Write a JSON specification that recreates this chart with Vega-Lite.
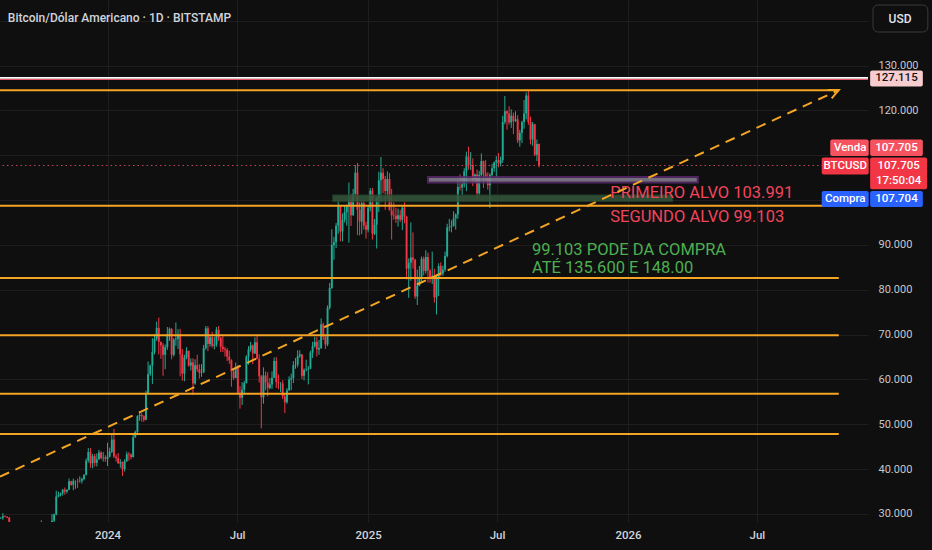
{
  "$schema": "https://vega.github.io/schema/vega-lite/v6.json",
  "width": 868,
  "height": 522,
  "autosize": {"type": "none"},
  "padding": {"left": 0, "top": 0, "right": 64, "bottom": 28},
  "background": "#0f0f0f",
  "usermeta": {"embedOptions": {"actions": false}},
  "config": {
    "view": {"stroke": null, "fill": "#0f0f0f"},
    "font": "Roboto",
    "axis": {"labelFont": "Roboto"}
  },
  "datasets": {
    "candles": [
      {"t":"2023-08-01","o":29200,"h":29700,"l":28600,"c":29100},
      {"t":"2023-08-04","o":29100,"h":29300,"l":28900,"c":29100},
      {"t":"2023-08-07","o":29100,"h":30200,"l":28700,"c":29500},
      {"t":"2023-08-10","o":29500,"h":29700,"l":29300,"c":29400},
      {"t":"2023-08-13","o":29400,"h":29500,"l":29100,"c":29200},
      {"t":"2023-08-16","o":29200,"h":29300,"l":25200,"c":26100},
      {"t":"2023-08-19","o":26100,"h":26300,"l":25800,"c":26100},
      {"t":"2023-08-22","o":26100,"h":26800,"l":25400,"c":26100},
      {"t":"2023-08-25","o":26100,"h":26200,"l":25800,"c":26100},
      {"t":"2023-08-28","o":26100,"h":28100,"l":25900,"c":27300},
      {"t":"2023-08-31","o":27300,"h":27400,"l":25700,"c":25900},
      {"t":"2023-09-03","o":25900,"h":26100,"l":25600,"c":25800},
      {"t":"2023-09-06","o":25800,"h":26500,"l":25400,"c":25900},
      {"t":"2023-09-09","o":25900,"h":26100,"l":24900,"c":25800},
      {"t":"2023-09-12","o":25800,"h":26700,"l":25700,"c":26500},
      {"t":"2023-09-15","o":26500,"h":26800,"l":26400,"c":26700},
      {"t":"2023-09-18","o":26700,"h":27500,"l":26400,"c":26600},
      {"t":"2023-09-21","o":26600,"h":26700,"l":26300,"c":26500},
      {"t":"2023-09-24","o":26500,"h":26600,"l":26000,"c":26300},
      {"t":"2023-09-27","o":26300,"h":27200,"l":26200,"c":27000},
      {"t":"2023-09-30","o":27000,"h":28600,"l":26900,"c":27800},
      {"t":"2023-10-03","o":27800,"h":28100,"l":27200,"c":27900},
      {"t":"2023-10-06","o":27900,"h":28200,"l":27400,"c":27600},
      {"t":"2023-10-09","o":27600,"h":27700,"l":26600,"c":26800},
      {"t":"2023-10-12","o":26800,"h":27000,"l":26600,"c":26900},
      {"t":"2023-10-15","o":26900,"h":30000,"l":26800,"c":28500},
      {"t":"2023-10-18","o":28500,"h":30100,"l":28200,"c":29900},
      {"t":"2023-10-21","o":29900,"h":35200,"l":29700,"c":33900},
      {"t":"2023-10-24","o":33900,"h":35000,"l":33700,"c":34200},
      {"t":"2023-10-27","o":34200,"h":34800,"l":33900,"c":34600},
      {"t":"2023-10-30","o":34600,"h":35600,"l":34100,"c":35400},
      {"t":"2023-11-02","o":35400,"h":35900,"l":34300,"c":35000},
      {"t":"2023-11-05","o":35000,"h":35500,"l":34600,"c":35400},
      {"t":"2023-11-08","o":35400,"h":37900,"l":35300,"c":37300},
      {"t":"2023-11-11","o":37300,"h":37400,"l":36300,"c":36500},
      {"t":"2023-11-14","o":36500,"h":37900,"l":35300,"c":37400},
      {"t":"2023-11-17","o":37400,"h":37500,"l":35600,"c":37400},
      {"t":"2023-11-20","o":37400,"h":37900,"l":35800,"c":37300},
      {"t":"2023-11-23","o":37300,"h":38400,"l":37000,"c":37400},
      {"t":"2023-11-26","o":37400,"h":38100,"l":36800,"c":37800},
      {"t":"2023-11-29","o":37800,"h":38900,"l":37500,"c":38700},
      {"t":"2023-12-02","o":38700,"h":42400,"l":38600,"c":41900},
      {"t":"2023-12-05","o":41900,"h":44700,"l":41500,"c":43800},
      {"t":"2023-12-08","o":43800,"h":44700,"l":40300,"c":41300},
      {"t":"2023-12-11","o":41300,"h":43400,"l":40200,"c":42900},
      {"t":"2023-12-14","o":42900,"h":43400,"l":40600,"c":41400},
      {"t":"2023-12-17","o":41400,"h":43500,"l":40600,"c":42200},
      {"t":"2023-12-20","o":42200,"h":44300,"l":42100,"c":43700},
      {"t":"2023-12-23","o":43700,"h":44000,"l":42200,"c":42500},
      {"t":"2023-12-26","o":42500,"h":43800,"l":41700,"c":42600},
      {"t":"2023-12-29","o":42600,"h":43100,"l":41600,"c":42300},
      {"t":"2024-01-01","o":42300,"h":45900,"l":40700,"c":42800},
      {"t":"2024-01-04","o":42800,"h":44800,"l":42600,"c":43900},
      {"t":"2024-01-07","o":43900,"h":47900,"l":43600,"c":46600},
      {"t":"2024-01-10","o":46600,"h":49000,"l":42500,"c":42800},
      {"t":"2024-01-13","o":42800,"h":43300,"l":41700,"c":42500},
      {"t":"2024-01-16","o":42500,"h":43600,"l":41200,"c":41300},
      {"t":"2024-01-19","o":41300,"h":42200,"l":40300,"c":41600},
      {"t":"2024-01-22","o":41600,"h":41700,"l":38500,"c":40000},
      {"t":"2024-01-25","o":40000,"h":42200,"l":39500,"c":41800},
      {"t":"2024-01-28","o":41800,"h":43900,"l":41600,"c":43300},
      {"t":"2024-01-31","o":43300,"h":43800,"l":41900,"c":43200},
      {"t":"2024-02-03","o":43200,"h":43500,"l":42200,"c":42700},
      {"t":"2024-02-06","o":42700,"h":47700,"l":42600,"c":47100},
      {"t":"2024-02-09","o":47100,"h":48600,"l":47000,"c":48300},
      {"t":"2024-02-12","o":48300,"h":52000,"l":47700,"c":51800},
      {"t":"2024-02-15","o":51800,"h":52800,"l":50800,"c":52100},
      {"t":"2024-02-18","o":52100,"h":52500,"l":50600,"c":51800},
      {"t":"2024-02-21","o":51800,"h":52000,"l":50500,"c":51000},
      {"t":"2024-02-24","o":51000,"h":57500,"l":50900,"c":56800},
      {"t":"2024-02-27","o":56800,"h":64000,"l":56700,"c":61200},
      {"t":"2024-03-01","o":61200,"h":63300,"l":60800,"c":63100},
      {"t":"2024-03-04","o":63100,"h":69200,"l":59000,"c":66100},
      {"t":"2024-03-07","o":66100,"h":70100,"l":65600,"c":69000},
      {"t":"2024-03-10","o":69000,"h":72900,"l":68600,"c":71500},
      {"t":"2024-03-13","o":71500,"h":73800,"l":65600,"c":68400},
      {"t":"2024-03-16","o":68400,"h":68400,"l":64600,"c":67600},
      {"t":"2024-03-19","o":67600,"h":68100,"l":60800,"c":65500},
      {"t":"2024-03-22","o":65500,"h":67800,"l":62300,"c":67200},
      {"t":"2024-03-25","o":67200,"h":71700,"l":66600,"c":69900},
      {"t":"2024-03-28","o":69900,"h":71600,"l":68600,"c":71300},
      {"t":"2024-03-31","o":71300,"h":71400,"l":64500,"c":65500},
      {"t":"2024-04-03","o":65500,"h":69200,"l":65100,"c":68900},
      {"t":"2024-04-06","o":68900,"h":72700,"l":67500,"c":69100},
      {"t":"2024-04-09","o":69100,"h":71200,"l":66800,"c":70000},
      {"t":"2024-04-12","o":70000,"h":71300,"l":60700,"c":65600},
      {"t":"2024-04-15","o":65600,"h":66800,"l":59700,"c":61300},
      {"t":"2024-04-18","o":61300,"h":65500,"l":59600,"c":64900},
      {"t":"2024-04-21","o":64900,"h":67200,"l":64500,"c":66400},
      {"t":"2024-04-24","o":66400,"h":66400,"l":62800,"c":63100},
      {"t":"2024-04-27","o":63100,"h":64700,"l":62000,"c":63800},
      {"t":"2024-04-30","o":63800,"h":64700,"l":56500,"c":59100},
      {"t":"2024-05-03","o":59100,"h":64500,"l":58800,"c":63200},
      {"t":"2024-05-06","o":63200,"h":65500,"l":61700,"c":62300},
      {"t":"2024-05-09","o":62300,"h":63400,"l":60200,"c":61500},
      {"t":"2024-05-12","o":61500,"h":63400,"l":60600,"c":61600},
      {"t":"2024-05-15","o":61600,"h":67700,"l":61400,"c":67000},
      {"t":"2024-05-18","o":67000,"h":71900,"l":66600,"c":71400},
      {"t":"2024-05-21","o":71400,"h":71900,"l":66300,"c":67900},
      {"t":"2024-05-24","o":67900,"h":69900,"l":67300,"c":69400},
      {"t":"2024-05-27","o":69400,"h":70600,"l":67100,"c":67500},
      {"t":"2024-05-30","o":67500,"h":69500,"l":66700,"c":67800},
      {"t":"2024-06-02","o":67800,"h":71700,"l":67300,"c":71100},
      {"t":"2024-06-05","o":71100,"h":71900,"l":68600,"c":69300},
      {"t":"2024-06-08","o":69300,"h":69500,"l":66100,"c":67300},
      {"t":"2024-06-11","o":67300,"h":70000,"l":66100,"c":66800},
      {"t":"2024-06-14","o":66800,"h":67300,"l":65100,"c":66600},
      {"t":"2024-06-17","o":66600,"h":67000,"l":64100,"c":65100},
      {"t":"2024-06-20","o":65100,"h":66400,"l":63500,"c":64300},
      {"t":"2024-06-23","o":64300,"h":64500,"l":58400,"c":61800},
      {"t":"2024-06-26","o":61800,"h":62500,"l":59900,"c":60300},
      {"t":"2024-06-29","o":60300,"h":63800,"l":60300,"c":62700},
      {"t":"2024-07-02","o":62700,"h":63200,"l":56800,"c":57000},
      {"t":"2024-07-05","o":57000,"h":58500,"l":53500,"c":55900},
      {"t":"2024-07-08","o":55900,"h":59400,"l":54300,"c":57700},
      {"t":"2024-07-11","o":57700,"h":59700,"l":56700,"c":59200},
      {"t":"2024-07-14","o":59200,"h":65400,"l":59100,"c":65100},
      {"t":"2024-07-17","o":65100,"h":67400,"l":63300,"c":66700},
      {"t":"2024-07-20","o":66700,"h":68400,"l":66200,"c":67600},
      {"t":"2024-07-23","o":67600,"h":67800,"l":63400,"c":65800},
      {"t":"2024-07-26","o":65800,"h":69400,"l":65700,"c":68300},
      {"t":"2024-07-29","o":68300,"h":70000,"l":64500,"c":64600},
      {"t":"2024-08-01","o":64600,"h":65600,"l":59300,"c":60700},
      {"t":"2024-08-04","o":60700,"h":61000,"l":49100,"c":56000},
      {"t":"2024-08-07","o":56000,"h":62700,"l":54600,"c":60900},
      {"t":"2024-08-10","o":60900,"h":61800,"l":57600,"c":59300},
      {"t":"2024-08-13","o":59300,"h":61600,"l":56200,"c":58100},
      {"t":"2024-08-16","o":58100,"h":60300,"l":57800,"c":58900},
      {"t":"2024-08-19","o":58900,"h":61800,"l":57900,"c":60400},
      {"t":"2024-08-22","o":60400,"h":64900,"l":60300,"c":64100},
      {"t":"2024-08-25","o":64100,"h":65000,"l":58100,"c":59400},
      {"t":"2024-08-28","o":59400,"h":61100,"l":57800,"c":59100},
      {"t":"2024-08-31","o":59100,"h":59400,"l":57200,"c":59100},
      {"t":"2024-09-03","o":59100,"h":59800,"l":55600,"c":56200},
      {"t":"2024-09-06","o":56200,"h":56900,"l":52500,"c":54900},
      {"t":"2024-09-09","o":54900,"h":58100,"l":54600,"c":57600},
      {"t":"2024-09-12","o":57600,"h":60700,"l":57400,"c":60000},
      {"t":"2024-09-15","o":60000,"h":61300,"l":57600,"c":60300},
      {"t":"2024-09-18","o":60300,"h":64100,"l":59200,"c":63200},
      {"t":"2024-09-21","o":63200,"h":64800,"l":62400,"c":63300},
      {"t":"2024-09-24","o":63300,"h":66500,"l":62700,"c":65200},
      {"t":"2024-09-27","o":65200,"h":66500,"l":64800,"c":65600},
      {"t":"2024-09-30","o":65600,"h":65600,"l":60100,"c":60800},
      {"t":"2024-10-03","o":60800,"h":62500,"l":59800,"c":62100},
      {"t":"2024-10-06","o":62100,"h":64400,"l":61800,"c":62200},
      {"t":"2024-10-09","o":62200,"h":63000,"l":58900,"c":62400},
      {"t":"2024-10-12","o":62400,"h":66400,"l":62300,"c":66000},
      {"t":"2024-10-15","o":66000,"h":68400,"l":64800,"c":67400},
      {"t":"2024-10-18","o":67400,"h":69500,"l":67100,"c":68400},
      {"t":"2024-10-21","o":68400,"h":69500,"l":65100,"c":66700},
      {"t":"2024-10-24","o":66700,"h":68800,"l":65500,"c":67000},
      {"t":"2024-10-27","o":67000,"h":73600,"l":66800,"c":72300},
      {"t":"2024-10-30","o":72300,"h":72700,"l":68800,"c":69500},
      {"t":"2024-11-02","o":69500,"h":69900,"l":66800,"c":67800},
      {"t":"2024-11-05","o":67800,"h":76500,"l":67400,"c":76000},
      {"t":"2024-11-08","o":76000,"h":81500,"l":75600,"c":80400},
      {"t":"2024-11-11","o":80400,"h":93500,"l":80200,"c":90000},
      {"t":"2024-11-14","o":90000,"h":91800,"l":86700,"c":90600},
      {"t":"2024-11-17","o":90600,"h":94900,"l":89300,"c":94300},
      {"t":"2024-11-20","o":94300,"h":99800,"l":92500,"c":98900},
      {"t":"2024-11-23","o":98900,"h":98900,"l":90800,"c":93000},
      {"t":"2024-11-26","o":93000,"h":97000,"l":90800,"c":95600},
      {"t":"2024-11-29","o":95600,"h":98700,"l":95000,"c":97300},
      {"t":"2024-12-02","o":97300,"h":99000,"l":94300,"c":98800},
      {"t":"2024-12-05","o":98800,"h":103900,"l":90500,"c":99900},
      {"t":"2024-12-08","o":99900,"h":101400,"l":94200,"c":96600},
      {"t":"2024-12-11","o":96600,"h":102500,"l":96500,"c":101400},
      {"t":"2024-12-14","o":101400,"h":107800,"l":100700,"c":106100},
      {"t":"2024-12-17","o":106100,"h":108300,"l":92200,"c":97800},
      {"t":"2024-12-20","o":97800,"h":99500,"l":92100,"c":95200},
      {"t":"2024-12-23","o":95200,"h":99900,"l":92400,"c":99300},
      {"t":"2024-12-26","o":99300,"h":99900,"l":93400,"c":94300},
      {"t":"2024-12-29","o":94300,"h":95200,"l":91400,"c":93400},
      {"t":"2025-01-01","o":93400,"h":98900,"l":92800,"c":98300},
      {"t":"2025-01-04","o":98300,"h":102700,"l":97500,"c":102100},
      {"t":"2025-01-07","o":102100,"h":102700,"l":91200,"c":92500},
      {"t":"2025-01-10","o":92500,"h":95800,"l":92200,"c":94500},
      {"t":"2025-01-13","o":94500,"h":100700,"l":89200,"c":100500},
      {"t":"2025-01-16","o":100500,"h":106300,"l":97300,"c":104400},
      {"t":"2025-01-19","o":104400,"h":109600,"l":99500,"c":106100},
      {"t":"2025-01-22","o":106100,"h":107100,"l":101500,"c":104700},
      {"t":"2025-01-25","o":104700,"h":105400,"l":97800,"c":102000},
      {"t":"2025-01-28","o":102000,"h":106400,"l":100300,"c":104700},
      {"t":"2025-01-31","o":104700,"h":106000,"l":97700,"c":97700},
      {"t":"2025-02-03","o":97700,"h":102500,"l":91200,"c":96600},
      {"t":"2025-02-06","o":96600,"h":99500,"l":95600,"c":96500},
      {"t":"2025-02-09","o":96500,"h":98300,"l":94900,"c":95800},
      {"t":"2025-02-12","o":95800,"h":98100,"l":94100,"c":96600},
      {"t":"2025-02-15","o":96600,"h":97800,"l":95100,"c":95600},
      {"t":"2025-02-18","o":95600,"h":98700,"l":93300,"c":98300},
      {"t":"2025-02-21","o":98300,"h":99500,"l":94800,"c":96300},
      {"t":"2025-02-24","o":96300,"h":96500,"l":82300,"c":84700},
      {"t":"2025-02-27","o":84700,"h":87000,"l":78200,"c":86000},
      {"t":"2025-03-02","o":86000,"h":95000,"l":82000,"c":87200},
      {"t":"2025-03-05","o":87200,"h":92800,"l":84700,"c":86700},
      {"t":"2025-03-08","o":86700,"h":86900,"l":78000,"c":78500},
      {"t":"2025-03-11","o":78500,"h":84500,"l":76600,"c":80900},
      {"t":"2025-03-14","o":80900,"h":85300,"l":80800,"c":82600},
      {"t":"2025-03-17","o":82600,"h":87400,"l":81800,"c":86900},
      {"t":"2025-03-20","o":86900,"h":87400,"l":83200,"c":84200},
      {"t":"2025-03-23","o":84200,"h":88800,"l":83600,"c":87300},
      {"t":"2025-03-26","o":87300,"h":88300,"l":81600,"c":84300},
      {"t":"2025-03-29","o":84300,"h":84600,"l":81600,"c":82500},
      {"t":"2025-04-01","o":82500,"h":88500,"l":81300,"c":83100},
      {"t":"2025-04-04","o":83100,"h":84700,"l":77100,"c":78300},
      {"t":"2025-04-07","o":78300,"h":83500,"l":74500,"c":82600},
      {"t":"2025-04-10","o":82600,"h":85900,"l":78600,"c":85300},
      {"t":"2025-04-13","o":85300,"h":86100,"l":83000,"c":83600},
      {"t":"2025-04-16","o":83600,"h":85400,"l":83100,"c":84500},
      {"t":"2025-04-19","o":84500,"h":88500,"l":84000,"c":87500},
      {"t":"2025-04-22","o":87500,"h":94700,"l":87200,"c":93900},
      {"t":"2025-04-25","o":93900,"h":95800,"l":93000,"c":94000},
      {"t":"2025-04-28","o":94000,"h":95500,"l":92800,"c":94200},
      {"t":"2025-05-01","o":94200,"h":97500,"l":94100,"c":95900},
      {"t":"2025-05-04","o":95900,"h":97000,"l":93400,"c":96800},
      {"t":"2025-05-07","o":96800,"h":104300,"l":95800,"c":102900},
      {"t":"2025-05-10","o":102900,"h":105700,"l":102100,"c":102800},
      {"t":"2025-05-13","o":102800,"h":105000,"l":101100,"c":103500},
      {"t":"2025-05-16","o":103500,"h":107100,"l":102800,"c":106400},
      {"t":"2025-05-19","o":106400,"h":110800,"l":102000,"c":109700},
      {"t":"2025-05-22","o":109700,"h":111900,"l":106800,"c":107800},
      {"t":"2025-05-25","o":107800,"h":110700,"l":106700,"c":107800},
      {"t":"2025-05-28","o":107800,"h":109300,"l":103100,"c":104600},
      {"t":"2025-05-31","o":104600,"h":105900,"l":103800,"c":105700},
      {"t":"2025-06-03","o":105700,"h":106800,"l":100400,"c":101500},
      {"t":"2025-06-06","o":101500,"h":106500,"l":101000,"c":105600},
      {"t":"2025-06-09","o":105600,"h":110400,"l":105300,"c":108700},
      {"t":"2025-06-12","o":108700,"h":108800,"l":102700,"c":105900},
      {"t":"2025-06-15","o":105900,"h":108900,"l":104400,"c":104800},
      {"t":"2025-06-18","o":104800,"h":106200,"l":102300,"c":103300},
      {"t":"2025-06-21","o":103300,"h":106000,"l":98200,"c":105600},
      {"t":"2025-06-24","o":105600,"h":108100,"l":105300,"c":107100},
      {"t":"2025-06-27","o":107100,"h":108600,"l":106300,"c":108400},
      {"t":"2025-06-30","o":108400,"h":109800,"l":105100,"c":108900},
      {"t":"2025-07-03","o":108900,"h":110500,"l":107300,"c":108200},
      {"t":"2025-07-06","o":108200,"h":109700,"l":107500,"c":108900},
      {"t":"2025-07-09","o":108900,"h":118800,"l":108300,"c":117400},
      {"t":"2025-07-12","o":117400,"h":123200,"l":116900,"c":119800},
      {"t":"2025-07-15","o":119800,"h":120000,"l":115700,"c":119300},
      {"t":"2025-07-18","o":119300,"h":120900,"l":116800,"c":117300},
      {"t":"2025-07-21","o":117300,"h":120200,"l":116100,"c":118800},
      {"t":"2025-07-24","o":118800,"h":119500,"l":114700,"c":117600},
      {"t":"2025-07-27","o":117600,"h":119800,"l":117400,"c":118000},
      {"t":"2025-07-30","o":118000,"h":118900,"l":112700,"c":113300},
      {"t":"2025-08-02","o":113300,"h":115700,"l":111900,"c":115000},
      {"t":"2025-08-05","o":115000,"h":117700,"l":112700,"c":117400},
      {"t":"2025-08-08","o":117400,"h":122300,"l":115900,"c":119300},
      {"t":"2025-08-11","o":119300,"h":124000,"l":118000,"c":123300},
      {"t":"2025-08-14","o":123300,"h":124500,"l":116800,"c":117400},
      {"t":"2025-08-17","o":117400,"h":118600,"l":112400,"c":113500},
      {"t":"2025-08-20","o":113500,"h":117400,"l":112100,"c":116900},
      {"t":"2025-08-23","o":116900,"h":117000,"l":109800,"c":110100},
      {"t":"2025-08-26","o":110100,"h":113500,"l":108700,"c":112500},
      {"t":"2025-08-29","o":112500,"h":112600,"l":107300,"c":107705}
    ],
    "levels": [
      {"t":"2023-07-01","t2":"2026-10-24","v":124500},
      {"t":"2023-07-01","t2":"2026-10-24","v":98750},
      {"t":"2023-07-01","t2":"2026-10-24","v":82600},
      {"t":"2023-07-01","t2":"2026-10-24","v":69850},
      {"t":"2023-07-01","t2":"2026-10-24","v":56800},
      {"t":"2023-07-01","t2":"2026-10-24","v":47850}
    ],
    "tags": [
      {"t":"2026-12-07","t2":"2027-02-19","v":125320,"v2":128890,"tag":"linha"},
      {"t":"2026-10-12","t2":"2026-12-05","v":109800,"v2":113500,"tag":"venda"},
      {"t":"2026-12-07","t2":"2027-02-19","v":109800,"v2":113500,"tag":"venda"},
      {"t":"2026-09-30","t2":"2026-12-05","v":105700,"v2":109500,"tag":"btc"},
      {"t":"2026-12-07","t2":"2027-02-25","v":102400,"v2":109500,"tag":"btc"},
      {"t":"2026-09-30","t2":"2026-12-05","v":98450,"v2":102000,"tag":"compra"},
      {"t":"2026-12-07","t2":"2027-02-19","v":98450,"v2":102000,"tag":"compra"}
    ],
    "tagText": [
      {"t":"2026-11-09","v":111660,"txt":"Venda"},
      {"t":"2027-01-13","v":111660,"txt":"107.705"},
      {"t":"2026-11-02","v":107600,"txt":"BTCUSD"},
      {"t":"2027-01-16","v":107600,"txt":"107.705"},
      {"t":"2027-01-16","v":104250,"txt":"17:50:04"},
      {"t":"2026-11-02","v":100250,"txt":"Compra"},
      {"t":"2027-01-13","v":100250,"txt":"107.704"}
    ]
  },
  "layer": [
    {
      "data": {"name": "candles"},
      "mark": {"type": "rule", "clip": true, "strokeWidth": 1},
      "encoding": {
        "x": {
          "field": "t",
          "type": "temporal",
          "scale": {
            "type": "utc",
            "domain": [
              {"year": 2023, "month": 8, "date": 3, "utc": true},
              {"year": 2026, "month": 12, "date": 4, "utc": true}
            ],
            "nice": false,
            "padding": 0
          },
          "axis": {
            "title": null,
            "values": [
              {"year": 2024, "month": 1, "date": 1, "utc": true},
              {"year": 2024, "month": 7, "date": 1, "utc": true},
              {"year": 2025, "month": 1, "date": 1, "utc": true},
              {"year": 2025, "month": 7, "date": 1, "utc": true},
              {"year": 2026, "month": 1, "date": 1, "utc": true},
              {"year": 2026, "month": 7, "date": 1, "utc": true}
            ],
            "labelExpr": "utcFormat(datum.value, '%m') == '01' ? utcFormat(datum.value, '%Y') : 'Jul'",
            "grid": true,
            "gridColor": "#1e1e1e",
            "domain": false,
            "ticks": false,
            "labelPadding": 7,
            "labelColor": "#d1d4dc",
            "labelFontSize": 11.5,
            "labelFontWeight": 500
          }
        },
        "y": {
          "field": "l",
          "type": "quantitative",
          "scale": {"domain": [28216, 144607], "nice": false, "zero": false, "padding": 0},
          "axis": {
            "title": null,
            "orient": "right",
            "values": [30000, 40000, 50000, 60000, 70000, 80000, 90000, 100000, 110000, 120000, 130000, 140000],
            "labelExpr": "datum.value >= 100000 && datum.value <= 110000 || datum.value == 140000 ? '' : replace(format(datum.value, ','), ',', '.')",
            "grid": true,
            "gridColor": "#1e1e1e",
            "domain": false,
            "ticks": false,
            "labelPadding": 10,
            "labelColor": "#c8c8c8",
            "labelFontSize": 11
          }
        },
        "y2": {"field": "h"},
        "color": {"condition": {"test": "datum.c >= datum.o", "value": "#22ab94"}, "value": "#f23645"}
      }
    },
    {
      "data": {"name": "candles"},
      "mark": {"type": "bar", "clip": true, "size": 1.9},
      "encoding": {
        "x": {"field": "t", "type": "temporal"},
        "y": {"field": "o", "type": "quantitative"},
        "y2": {"field": "c"},
        "color": {"condition": {"test": "datum.c >= datum.o", "value": "#22ab94"}, "value": "#f23645"}
      }
    },
    {
      "data": {"values": [{"t": "2024-11-12", "t2": "2026-03-05", "v": 99650, "v2": 101150}]},
      "mark": {"type": "rect", "fill": "#34573a", "opacity": 0.85, "stroke": "#23402a", "strokeWidth": 1},
      "encoding": {
        "x": {"field": "t", "type": "temporal"},
        "x2": {"field": "t2"},
        "y": {"field": "v", "type": "quantitative"},
        "y2": {"field": "v2"}
      }
    },
    {
      "data": {"values": [{"t": "2025-03-26", "t2": "2026-04-09", "v": 103900, "v2": 105150}]},
      "mark": {"type": "rect", "fill": "#85828e", "opacity": 0.85, "stroke": "#5a2a6e", "strokeWidth": 2},
      "encoding": {
        "x": {"field": "t", "type": "temporal"},
        "x2": {"field": "t2"},
        "y": {"field": "v", "type": "quantitative"},
        "y2": {"field": "v2"}
      }
    },
    {
      "data": {"values": [
        {"t": "2025-12-07", "v": 101570, "txt": "PRIMEIRO ALVO 103.991"},
        {"t": "2025-12-07", "v": 96220, "txt": "SEGUNDO ALVO 99.103"}
      ]},
      "mark": {"type": "text", "align": "left", "baseline": "middle", "fontSize": 16.5, "color": "#f0455c"},
      "encoding": {
        "x": {"field": "t", "type": "temporal"},
        "y": {"field": "v", "type": "quantitative"},
        "text": {"field": "txt"}
      }
    },
    {
      "data": {"values": [
        {"t": "2025-08-19", "v": 88860, "txt": "99.103 PODE DA COMPRA"},
        {"t": "2025-08-19", "v": 84740, "txt": "ATÉ 135.600 E 148.00"}
      ]},
      "mark": {"type": "text", "align": "left", "baseline": "middle", "fontSize": 16.5, "color": "#4caf50"},
      "encoding": {
        "x": {"field": "t", "type": "temporal"},
        "y": {"field": "v", "type": "quantitative"},
        "text": {"field": "txt"}
      }
    },
    {
      "data": {"name": "levels"},
      "mark": {"type": "rule", "clip": true, "color": "#f5a524", "strokeWidth": 2},
      "encoding": {
        "x": {"field": "t", "type": "temporal"},
        "x2": {"field": "t2"},
        "y": {"field": "v", "type": "quantitative"}
      }
    },
    {
      "data": {"values": [{"v": 126900}]},
      "mark": {"type": "rule", "color": "#e8536a", "strokeWidth": 1.4},
      "encoding": {"y": {"field": "v", "type": "quantitative"}}
    },
    {
      "data": {"values": [{"v": 127250}]},
      "mark": {"type": "rule", "color": "#ffffff", "strokeWidth": 1.6},
      "encoding": {"y": {"field": "v", "type": "quantitative"}}
    },
    {
      "data": {"values": [{"v": 107705}]},
      "mark": {"type": "rule", "color": "#c94a5e", "opacity": 0.95, "strokeWidth": 1, "strokeDash": [1.5, 3]},
      "encoding": {"y": {"field": "v", "type": "quantitative"}}
    },
    {
      "data": {"values": [
        {"t": "2023-08-03", "v": 38317},
        {"t": "2026-10-24", "v": 124540}
      ]},
      "mark": {"type": "line", "clip": true, "color": "#f5a524", "strokeWidth": 2, "strokeDash": [10, 7]},
      "encoding": {
        "x": {"field": "t", "type": "temporal"},
        "y": {"field": "v", "type": "quantitative"}
      }
    },
    {
      "data": {"values": [{"t": "2026-10-24", "v": 124540}]},
      "mark": {"type": "point", "shape": "M-1,-0.47L0,0L-1,0.47", "filled": false, "color": "#f5a524", "strokeWidth": 2, "size": 400, "angle": -24.7, "opacity": 1},
      "encoding": {
        "x": {"field": "t", "type": "temporal"},
        "y": {"field": "v", "type": "quantitative"}
      }
    },
    {
      "data": {"values": [{"t": "2023-08-14", "v": 140700, "txt": "Bitcoin/Dólar Americano · 1D · BITSTAMP"}]},
      "mark": {"type": "text", "align": "left", "baseline": "middle", "fontSize": 12, "fontWeight": 500, "color": "#d1d4dc"},
      "encoding": {
        "x": {"field": "t", "type": "temporal"},
        "y": {"field": "v", "type": "quantitative"},
        "text": {"field": "txt"}
      }
    },
    {
      "data": {"name": "tags"},
      "mark": {"type": "rect", "cornerRadius": 2},
      "encoding": {
        "x": {"field": "t", "type": "temporal"},
        "x2": {"field": "t2"},
        "y": {"field": "v", "type": "quantitative"},
        "y2": {"field": "v2"},
        "color": {
          "field": "tag",
          "type": "nominal",
          "scale": {"domain": ["linha", "venda", "btc", "compra"], "range": ["#f8cdd0", "#f7525f", "#f23645", "#2962ff"]},
          "legend": null
        }
      }
    },
    {
      "data": {"name": "tagText"},
      "mark": {"type": "text", "align": "center", "baseline": "middle", "fontSize": 11.5, "fontWeight": 500, "color": "#ffffff"},
      "encoding": {
        "x": {"field": "t", "type": "temporal"},
        "y": {"field": "v", "type": "quantitative"},
        "text": {"field": "txt"}
      }
    },
    {
      "data": {"values": [{"t": "2027-01-13", "v": 127115, "txt": "127.115"}]},
      "mark": {"type": "text", "align": "center", "baseline": "middle", "fontSize": 11.5, "fontWeight": 500, "color": "#131313"},
      "encoding": {
        "x": {"field": "t", "type": "temporal"},
        "y": {"field": "v", "type": "quantitative"},
        "text": {"field": "txt"}
      }
    },
    {
      "data": {"values": [{"t": "2026-12-11", "t2": "2027-02-26", "v": 137470, "v2": 143490}]},
      "mark": {"type": "rect", "fill": "#0f0f0f", "stroke": "#3a3a3a", "strokeWidth": 1, "cornerRadius": 5},
      "encoding": {
        "x": {"field": "t", "type": "temporal"},
        "x2": {"field": "t2"},
        "y": {"field": "v", "type": "quantitative"},
        "y2": {"field": "v2"}
      }
    },
    {
      "data": {"values": [{"t": "2027-01-18", "v": 140480, "txt": "USD"}]},
      "mark": {"type": "text", "align": "center", "baseline": "middle", "fontSize": 12, "fontWeight": 500, "color": "#e0e3eb"},
      "encoding": {
        "x": {"field": "t", "type": "temporal"},
        "y": {"field": "v", "type": "quantitative"},
        "text": {"field": "txt"}
      }
    }
  ]
}
